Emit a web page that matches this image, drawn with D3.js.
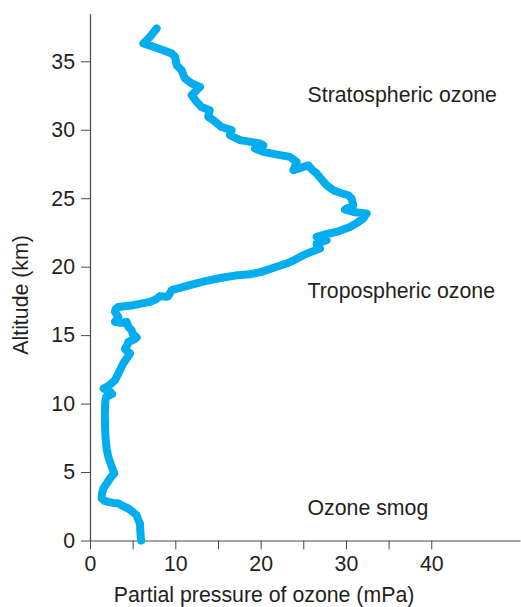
<!DOCTYPE html>
<html>
<head>
<meta charset="utf-8">
<script src="https://cdn.jsdelivr.net/npm/d3@7"></script>
<style>
  html, body { margin: 0; padding: 0; background: #fff; }
  svg { display: block; }
  text { font-family: "Liberation Sans", Arial, Helvetica, sans-serif; fill: #231f20; }
</style>
</head>
<body>
<svg id="chart" width="521" height="607"></svg>
<script>
// Ozone profile: altitude (km) and partial pressure of ozone (mPa)
const altitude = [0, 0.6, 1.24, 1.6, 1.85, 2.1, 2.34, 2.5, 2.7, 2.75, 2.82, 2.9, 3.07, 3.4, 3.8, 4.2, 4.53, 4.9, 5.38, 6.1, 6.7, 7.33, 8.0, 8.55, 9.2, 9.76, 10.2, 10.49, 10.7, 10.9, 11.1, 11.3, 11.7, 12.3, 12.93, 13.3, 13.66, 13.85, 14.0, 14.3, 14.5, 14.7, 14.83, 15.1, 15.36, 15.6, 15.97, 15.9, 15.97, 16.33, 16.7, 16.9, 17.06, 17.19, 17.3, 17.43, 17.6, 17.85, 17.8, 17.85, 18.28, 18.65, 18.95, 19.21, 19.35, 19.45, 19.6, 19.99, 20.23, 20.5, 20.84, 21.1, 21.33, 21.5, 21.7, 21.94, 22.18, 22.35, 22.54, 22.9, 23.2, 23.52, 23.89, 24.0, 24.18, 24.49, 24.98, 25.22, 25.4, 25.59, 25.95, 26.4, 26.81, 27.1, 27.41, 27.2, 27.05, 27.65, 28.02, 28.2, 28.39, 28.63, 28.87, 29.0, 29.24, 29.6, 29.97, 30.2, 30.7, 30.94, 31.43, 31.67, 32.04, 32.53, 33.13, 33.38, 33.75, 34.35, 34.72, 35.33, 35.57, 35.81, 36.06, 36.3, 36.5, 36.79, 37.4];
const pressure = [6.0, 5.9, 5.86, 5.6, 5.47, 5.0, 4.49, 3.9, 3.32, 2.7, 2.15, 1.7, 1.37, 1.4, 1.56, 2.0, 2.34, 2.85, 2.54, 2.15, 1.95, 1.84, 1.78, 1.76, 1.74, 1.76, 1.8, 1.9, 2.6, 2.3, 1.6, 2.2, 2.93, 3.4, 3.9, 4.3, 4.69, 4.3, 4.1, 4.4, 4.49, 5.2, 5.47, 5.0, 4.88, 4.5, 4.3, 3.6, 2.93, 3.32, 2.93, 3.0, 3.32, 5.08, 6.0, 7.03, 7.7, 8.2, 9.0, 9.18, 9.57, 11.72, 13.5, 15.62, 17.0, 18.75, 20.0, 21.88, 23.04, 24.0, 25.0, 26.0, 26.95, 26.6, 26.56, 27.73, 26.56, 27.5, 28.9, 30.47, 31.3, 32.03, 32.42, 30.86, 29.88, 30.86, 30.66, 30.27, 29.3, 28.51, 27.73, 27.1, 26.56, 26.0, 25.59, 24.6, 23.83, 24.22, 23.44, 21.8, 20.31, 19.34, 20.31, 19.92, 17.58, 16.4, 16.6, 15.43, 14.45, 13.86, 14.03, 13.05, 12.5, 11.92, 12.89, 11.92, 11.13, 10.74, 10.16, 9.96, 9.57, 8.59, 7.42, 6.25, 6.6, 7.03, 7.81];

const xTicks = [0, 5, 10, 15, 20, 25, 30, 35, 40];
const xLabelled = [0, 10, 20, 30, 40];
const yTicks = [0, 5, 10, 15, 20, 25, 30, 35];

const annotations = ["Stratospheric ozone", "Tropospheric ozone", "Ozone smog"];
const annotationAlt = [32.05, 17.7, 1.85];
const annotationP = [25.5, 25.5, 25.5];

const svg = d3.select("#chart");

const x = d3.scaleLinear().domain([0, 50.4]).range([90, 520]);
const y = d3.scaleLinear().domain([0, 38.5]).range([540.5, 13.4]);

const axisColor = "#4a4a4a";
const fontSize = 21.3;

// X axis
const xAxis = d3.axisBottom(x)
  .tickValues(xTicks)
  .tickSizeInner(9)
  .tickSizeOuter(0)
  .tickPadding(6)
  .tickFormat(d => xLabelled.includes(d) ? d : "");
const gx = svg.append("g").attr("transform", `translate(0,${y(0)})`).call(xAxis);
gx.select(".domain").attr("stroke", axisColor).attr("stroke-width", 1.2);
gx.selectAll(".tick line").attr("stroke", axisColor).attr("stroke-width", 1);
gx.selectAll(".tick text").attr("font-size", fontSize).attr("fill", "#231f20")
  .attr("font-family", '"Liberation Sans", Arial, sans-serif');

// Y axis
const yAxis = d3.axisLeft(y)
  .tickValues(yTicks)
  .tickSizeInner(9)
  .tickSizeOuter(0)
  .tickPadding(6);
const gy = svg.append("g").attr("transform", `translate(${x(0)},0)`).call(yAxis);
gy.select(".domain").attr("stroke", axisColor).attr("stroke-width", 1.2);
gy.selectAll(".tick line").attr("stroke", axisColor).attr("stroke-width", 1);
gy.selectAll(".tick text").attr("font-size", fontSize).attr("fill", "#231f20")
  .attr("font-family", '"Liberation Sans", Arial, sans-serif');

// Axis titles
svg.append("text")
  .attr("x", (x(0) + x(50.4)) / 2 - 41)
  .attr("y", 601.5)
  .attr("text-anchor", "middle")
  .attr("font-size", fontSize)
  .text("Partial pressure of ozone (mPa)");

svg.append("text")
  .attr("transform", `translate(28,${(y(0) + y(38.5)) / 2 + 18}) rotate(-90)`)
  .attr("text-anchor", "middle")
  .attr("font-size", fontSize)
  .text("Altitude (km)");

// Profile line
const pts = altitude.map((a, i) => ({ a, p: pressure[i] }));
const line = d3.line().x(d => x(d.p)).y(d => y(d.a)).curve(d3.curveLinear);
svg.append("path")
  .datum(pts)
  .attr("d", line)
  .attr("fill", "none")
  .attr("stroke", "#00aeef")
  .attr("stroke-width", 8)
  .attr("stroke-linejoin", "round")
  .attr("stroke-linecap", "round");

// Annotations
svg.selectAll("text.ann")
  .data(annotations)
  .enter().append("text")
  .attr("class", "ann")
  .attr("x", (d, i) => x(annotationP[i]))
  .attr("y", (d, i) => y(annotationAlt[i]))
  .attr("font-size", fontSize)
  .text(d => d);
</script>
</body>
</html>
